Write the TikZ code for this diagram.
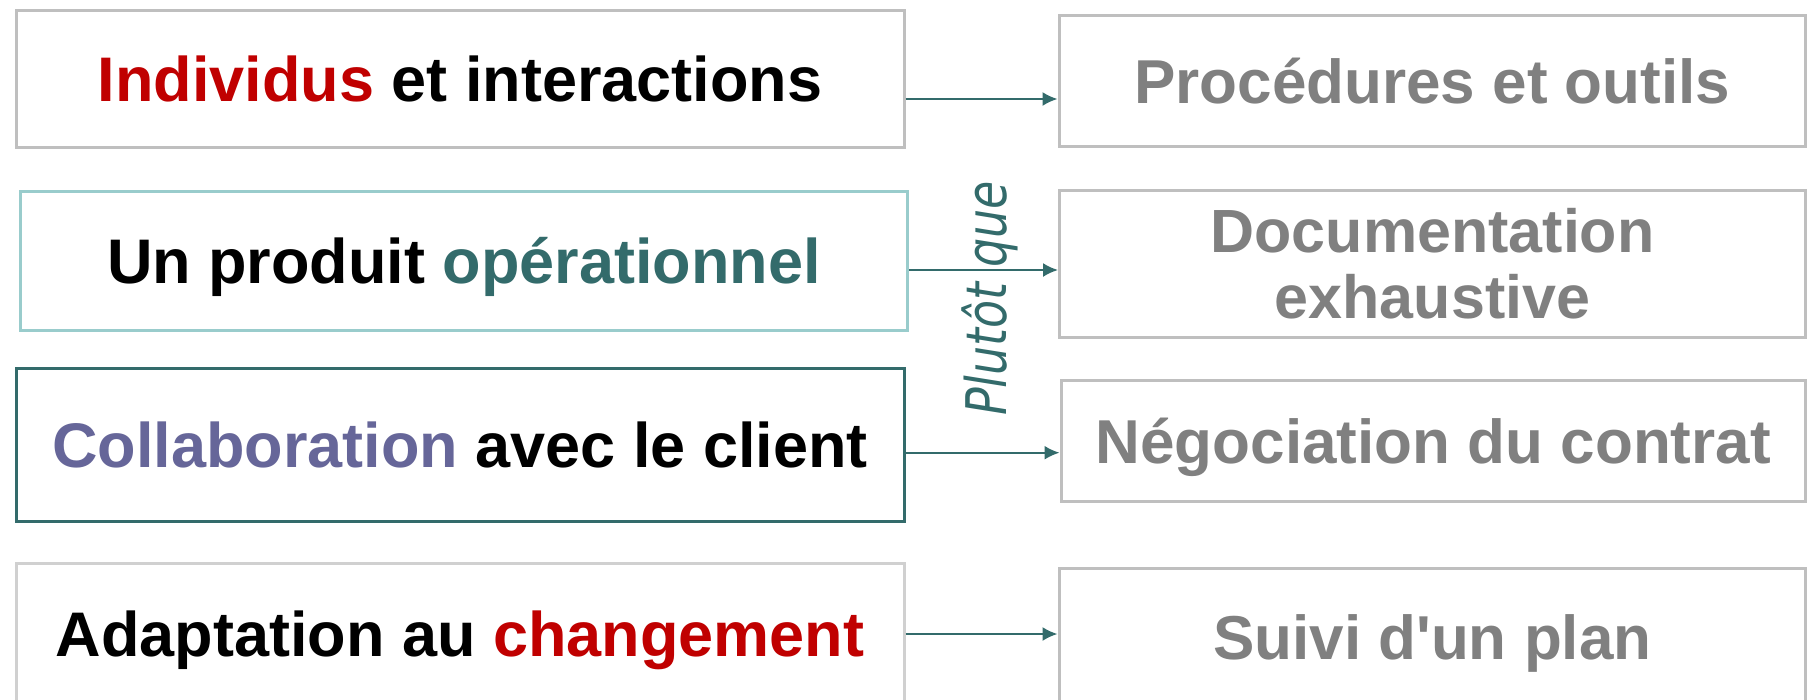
\documentclass[tikz,border=0pt]{standalone}
\usepackage{fontspec}
\usepackage{graphicx}
\setmainfont{Liberation Sans}
\newfontfamily\plutfont{DejaVu Sans}
\usetikzlibrary{arrows.meta}
\definecolor{boxgray}{HTML}{BFBFBF}
\definecolor{paleGray}{HTML}{D0D0D0}
\definecolor{lightteal}{HTML}{99CCCC}
\definecolor{darkteal}{HTML}{336B6B}
\definecolor{redx}{HTML}{C00000}
\definecolor{purplex}{HTML}{666699}
\definecolor{grayx}{HTML}{808080}
\begin{document}
\begin{tikzpicture}[x=1pt,y=-1pt,
  box/.style={draw, line width=3pt, fill=white, inner sep=0pt, align=center,
    text height=45pt, text depth=0pt, font=\fontsize{63}{70}\selectfont\bfseries},
  rbox/.style={box, draw=boxgray, text=grayx, font=\fontsize{62}{66}\selectfont\bfseries},
  arr/.style={draw=darkteal, line width=2pt, -{Latex[length=15pt,width=14pt]}},
]
\useasboundingbox (0,0) rectangle (1809,699);
% left column
\node[box, draw=boxgray, minimum width=888pt, minimum height=136.5pt] (L1) at (460,78.8)
  {{\color{redx}Individus} et interactions};
\node[box, draw=lightteal, minimum width=887pt, minimum height=139pt] (L2) at (464,261)
  {Un produit {\color{darkteal}opérationnel}};
\node[box, draw=darkteal, minimum width=888pt, minimum height=153pt] (L3) at (460,445)
  {{\color{purplex}Collaboration} avec le client};
\node[box, draw=paleGray, minimum width=888pt, minimum height=142pt] (L4) at (460,634)
  {Adaptation au {\color{redx}changement}};
% right column
\node[rbox, minimum width=746.5pt, minimum height=131.5pt] (R1) at (1432.25,81)
  {Procédures et outils};
\node[rbox, minimum width=746pt, minimum height=147pt, text height=, text depth=,
  font=\fontsize{61}{66}\selectfont\bfseries] (R2) at (1432.5,264)
  {Documentation\\exhaustive};
\node[rbox, minimum width=744.5pt, minimum height=121pt] (R3) at (1433.25,441)
  {Négociation du contrat};
\node[rbox, minimum width=746.5pt, minimum height=136pt] (R4) at (1432.25,636.5)
  {Suivi d\textquotesingle un plan};
% connectors
\draw[arr] (L1.east |- 0,99) -- (R1.west |- 0,99);
\draw[arr] (L2.east |- 0,270) -- (R2.west |- 0,270);
\draw[arr] (L3.east |- 0,452.7) -- (R3.west |- 0,452.7);
\draw[arr] (L4.east |- 0,634) -- (R4.west |- 0,634);
% label
\node[rotate=90, text=darkteal, inner sep=0pt,
  font=\plutfont\itshape\fontsize{56}{62}\selectfont] (pq) at (990,298.5)
  {\scalebox{0.82}[1]{Plutôt que}};
\end{tikzpicture}
\end{document}
